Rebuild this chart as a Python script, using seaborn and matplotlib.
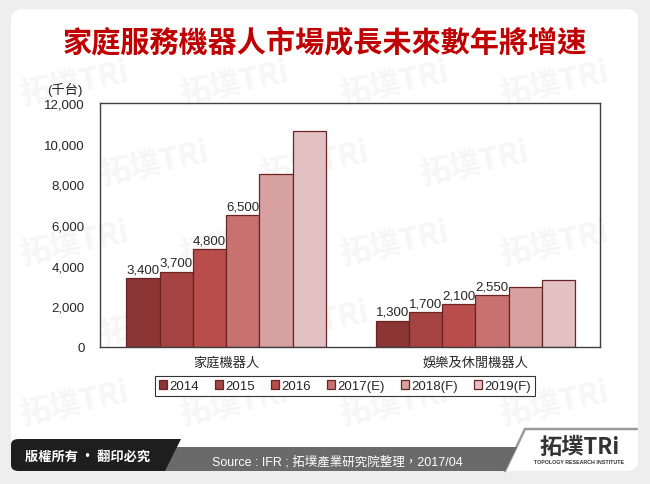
import pandas as pd
import numpy as np
import matplotlib.pyplot as plt
import seaborn as sns
from matplotlib.patches import FancyBboxPatch, Polygon

# data (thousand units)
categories = ['家庭機器人', '娛樂及休閒機器人']
years = ['2014', '2015', '2016', '2017(E)', '2018(F)', '2019(F)']
home = [3400, 3700, 4800, 6500, 8500, 10600]
leisure = [1300, 1700, 2100, 2550, 2950, 3300]
shown_labels = ['2014', '2015', '2016', '2017(E)']
colors = ['#8B3535', '#A64343', '#B94D4B', '#C87171', '#D7A1A2', '#E3C1C3']

df = pd.DataFrame({
    'category': [categories[0]] * len(years) + [categories[1]] * len(years),
    'year': years * 2,
    'value': home + leisure,
})

sns.set_theme(style='white')
plt.rcParams['font.family'] = ['Liberation Sans', 'Noto Sans CJK TC']

fig = plt.figure(figsize=(6.5, 4.85), dpi=100, facecolor='#EEEEEE')


def fx(x):
    return x / 650


def fy(y):
    return 1 - y / 485


# white card
fig.patches.append(FancyBboxPatch((fx(11), fy(472)), fx(627), 462 / 485,
                                  boxstyle='round,pad=0,rounding_size=0.02',
                                  transform=fig.transFigure, facecolor='white',
                                  edgecolor='none', zorder=-3))
# faint watermark, kept inside the card
for i, yy in enumerate(range(85, 420, 80)):
    for xx in range(75 + (i % 2) * 80, 600, 160):
        fig.text(fx(xx), fy(yy), '拓墣TRi', fontsize=22, color='#F6F6F6', rotation=12,
                 ha='center', va='center', fontweight='bold', zorder=-2.5,
                 family=['Noto Sans CJK TC'])

# bottom banner
fig.patches.append(Polygon([(fx(171), fy(448)), (fx(517), fy(448)), (fx(505), fy(472)),
                            (fx(160), fy(472))], closed=True, transform=fig.transFigure,
                           facecolor='#6A6A6A', edgecolor='none', zorder=-2))
fig.patches.append(FancyBboxPatch((fx(11), fy(472)), fx(150), 32 / 485,
                                  boxstyle='round,pad=0,rounding_size=0.012',
                                  transform=fig.transFigure, facecolor='#1E1E1E',
                                  edgecolor='none', zorder=-2))
fig.patches.append(Polygon([(fx(150), fy(440)), (fx(181), fy(440)), (fx(165), fy(472)),
                            (fx(150), fy(472))], closed=True, transform=fig.transFigure,
                           facecolor='#1E1E1E', edgecolor='none', zorder=-2))
fig.add_artist(plt.Line2D([fx(505), fx(525), fx(637)], [fy(472), fy(430), fy(430)],
                          transform=fig.transFigure, color='#9A9A9A', lw=1.8, zorder=-2))

fig.text(0.5, fy(42), '家庭服務機器人市場成長未來數年將增速', ha='center', va='center',
         fontsize=21, color='#C00000', family=['Noto Sans CJK TC'], fontweight='bold')
fig.text(fx(25), fy(457), '版權所有 ‧ 翻印必究', ha='left', va='center', fontsize=9.5,
         color='white', family=['Noto Sans CJK TC'], fontweight='bold')
fig.text(fx(337), fy(462), 'Source : IFR ; 拓墣產業研究院整理，2017/04', ha='center',
         va='center', fontsize=9, color='white')
fig.text(fx(579), fy(447), '拓墣TRi', ha='center', va='center', fontsize=16,
         color='#333333', family=['Noto Sans CJK TC'], fontweight='bold')
fig.text(fx(579), fy(463), 'TOPOLOGY RESEARCH INSTITUTE', ha='center', va='center',
         fontsize=3.8, color='#333333', fontweight='bold')

ax = fig.add_axes([fx(100), fy(348), fx(500), 244 / 485])
ax.set_facecolor('none')
sns.barplot(data=df, x='category', y='value', hue='year', palette=colors, ax=ax,
            width=0.8, saturation=1, edgecolor='#6B2424', linewidth=0.9)

ax.set_ylim(0, 12000)
ax.set_xlim(-0.506, 1.5)
ax.set_yticks(np.arange(0, 12001, 2000))
ax.set_yticklabels([f'{v:,}' for v in range(0, 12001, 2000)], fontsize=9.5)
ax.tick_params(axis='y', length=0, pad=11)
ax.tick_params(axis='x', length=0, labelsize=9.5, pad=7)
ax.set_xlabel('')
ax.set_ylabel('')
for s in ax.spines.values():
    s.set_visible(True)
    s.set_color('#404040')
    s.set_linewidth(1)

for cont, yr in zip(ax.containers, years):
    if yr in shown_labels:
        ax.bar_label(cont, labels=[f'{v:,.0f}' for v in cont.datavalues],
                     fontsize=9.5, padding=2)

ax.text(fx(47), fy(90), '(千台)', transform=fig.transFigure, ha='left', va='center',
        fontsize=9.5)

leg = ax.legend(loc='center', bbox_to_anchor=(fx(345), fy(387)),
                bbox_transform=fig.transFigure, ncol=6, fontsize=9.5,
                frameon=True, fancybox=False, handlelength=0.6, handleheight=0.6,
                handletextpad=0.2, columnspacing=1.2, borderpad=0.3)
leg.get_frame().set_edgecolor('black')
leg.get_frame().set_linewidth(0.8)

fig.savefig('out.png', dpi=100, facecolor=fig.get_facecolor())
